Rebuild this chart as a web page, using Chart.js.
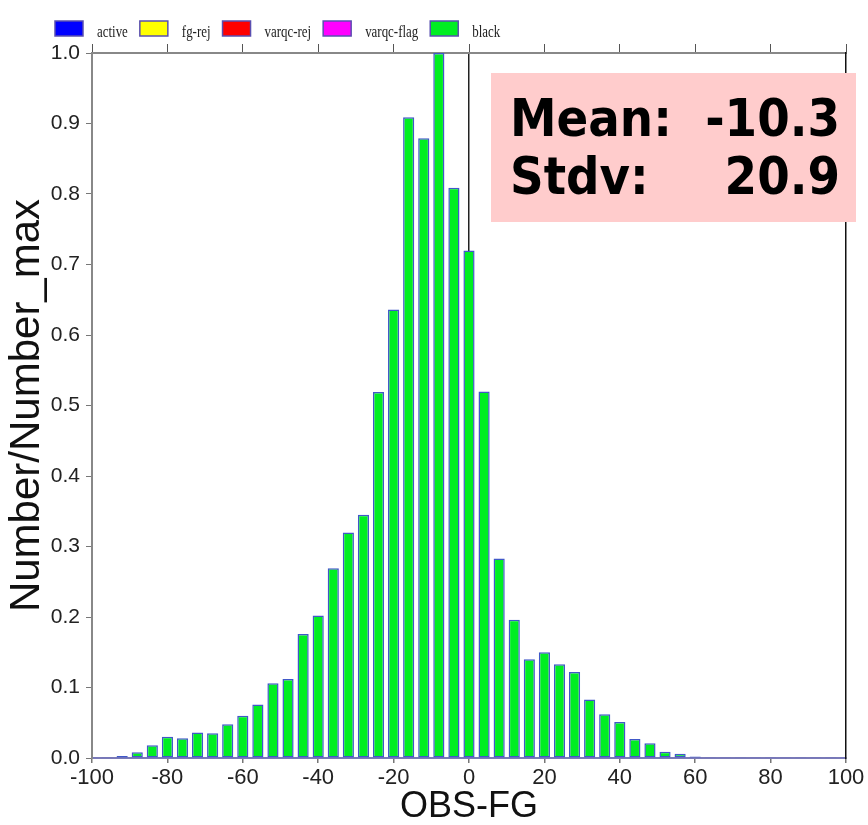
<!DOCTYPE html>
<html>
<head>
<meta charset="utf-8">
<script src="https://cdn.jsdelivr.net/npm/chart.js@4/dist/chart.umd.min.js"></script>
<style>
  html, body { margin: 0; padding: 0; background: #fff; }
  #wrap { width: 868px; height: 825px; }
</style>
</head>
<body>
<div id="wrap"><canvas id="hist" width="868" height="825"></canvas></div>
<script>
// Histogram bins (OBS-FG, bin centres) and normalised counts
const binCenters = [-100, -96, -92, -88, -84, -80, -76, -72, -68, -64, -60, -56, -52, -48, -44, -40,
  -36, -32, -28, -24, -20, -16, -12, -8, -4, 0, 4, 8, 12, 16, 20, 24, 28, 32, 36, 40,
  44, 48, 52, 56, 60, 64, 68, 72, 76, 80, 84, 88, 92, 96, 100];
const blackValues = [0.0005, 0.001, 0.003, 0.008, 0.018, 0.030, 0.028, 0.036, 0.035, 0.048, 0.060, 0.076,
  0.106, 0.112, 0.176, 0.202, 0.269, 0.320, 0.345, 0.519, 0.636, 0.909, 0.879, 1.000, 0.809, 0.720,
  0.520, 0.283, 0.196, 0.140, 0.150, 0.133, 0.122, 0.083, 0.062, 0.051, 0.027, 0.021, 0.009, 0.006,
  0.002, 0.001, 0.0005, 0.0005, 0.0005, 0.0005, 0.0005, 0.0005, 0.0005, 0.0005, 0.0005];
const seriesNames = ['active', 'fg-rej', 'varqc-rej', 'varqc-flag', 'black'];
const seriesColors = ['#0000ff', '#ffff00', '#ff0000', '#ff00ff', '#00ee22'];
const xTicks = [-100, -80, -60, -40, -20, 0, 20, 40, 60, 80, 100];
const yTicks = [0.0, 0.1, 0.2, 0.3, 0.4, 0.5, 0.6, 0.7, 0.8, 0.9, 1.0];
const statMean = -10.3;
const statStdv = 20.9;

const sans = '"Liberation Sans", Arial, sans-serif';

document.addEventListener('DOMContentLoaded', () => {
  const datasets = seriesNames.map((name, i) => ({
    label: name,
    data: name === 'black' ? binCenters.map((x, j) => ({ x, y: blackValues[j] })) : [],
    backgroundColor: seriesColors[i],
    borderColor: '#4058c8',
    borderWidth: 1.5,
    borderSkipped: false,
    grouped: false,
    barPercentage: 0.74,
    categoryPercentage: 1.0
  }));

  // legend boxes laid out like the original plot header (narrow serif text)
  const headerLegend = {
    id: 'headerLegend',
    afterDraw(chart) {
      const ctx = chart.ctx;
      const squeeze = 0.76;
      ctx.save();
      ctx.font = '17px "Liberation Serif", "Times New Roman", serif';
      ctx.textBaseline = 'alphabetic';
      let x = 55;
      chart.data.datasets.forEach(ds => {
        ctx.fillStyle = ds.backgroundColor;
        ctx.fillRect(x, 21, 28, 15);
        ctx.strokeStyle = '#5a4fb0';
        ctx.lineWidth = 1.5;
        ctx.strokeRect(x, 21, 28, 15);
        x += 28 + 14;
        ctx.save();
        ctx.translate(x, 37);
        ctx.scale(squeeze, 1);
        ctx.fillStyle = '#222';
        ctx.fillText(ds.label, 0, 0);
        ctx.restore();
        x += ctx.measureText(ds.label).width * squeeze + 12;
      });
      ctx.restore();
    }
  };

  // Mean / Stdv box in the upper right
  const statsBox = {
    id: 'statsBox',
    afterDraw(chart) {
      const ctx = chart.ctx;
      ctx.save();
      ctx.fillStyle = '#ffcccc';
      ctx.fillRect(491, 73, 365, 149);
      ctx.fillStyle = '#000';
      ctx.font = 'bold 52px "DejaVu Sans Condensed", "DejaVu Sans", sans-serif';
      ctx.textBaseline = 'alphabetic';
      ctx.textAlign = 'left';
      ctx.fillText('Mean:', 510, 136);
      ctx.fillText('Stdv:', 510, 194);
      ctx.textAlign = 'right';
      ctx.fillText(statMean.toFixed(1), 840, 136);
      ctx.fillText(statStdv.toFixed(1), 840, 194);
      ctx.restore();
    }
  };

  new Chart(document.getElementById('hist'), {
    type: 'bar',
    data: { datasets },
    options: {
      responsive: false,
      animation: false,
      layout: { padding: 0 },
      plugins: {
        legend: { display: false },
        tooltip: { enabled: false }
      },
      scales: {
        x: {
          type: 'linear',
          position: 'bottom',
          min: -100,
          max: 100,
          offset: false,
          z: 1,
          afterFit: s => { s.height = 67; },
          afterBuildTicks: s => { s.ticks = xTicks.map(v => ({ value: v })); },
          ticks: { font: { family: sans, size: 22 }, color: '#222', padding: 2, maxRotation: 0 },
          grid: {
            offset: false,
            drawOnChartArea: true,
            color: c => (c.tick && c.tick.value === 0 ? '#222' : 'rgba(0,0,0,0)'),
            lineWidth: 1.5,
            tickColor: '#777',
            tickLength: 5
          },
          border: { color: '#7a7ab8', width: 2 },
          title: {
            display: true,
            text: 'OBS-FG',
            color: '#111',
            font: { family: sans, size: 36, lineHeight: 1 },
            padding: { top: 0, bottom: 0 }
          }
        },
        x2: {
          type: 'linear',
          position: 'top',
          min: -100,
          max: 100,
          offset: false,
          afterFit: s => { s.height = 53; },
          afterBuildTicks: s => { s.ticks = xTicks.map(v => ({ value: v })); },
          ticks: { display: false },
          grid: { offset: false, drawOnChartArea: false, tickColor: '#555', tickLength: 9 },
          border: { color: '#888', width: 2 }
        },
        y: {
          type: 'linear',
          position: 'left',
          min: 0,
          max: 1,
          afterFit: s => { s.width = 92; },
          afterBuildTicks: s => { s.ticks = yTicks.map(v => ({ value: v })); },
          ticks: {
            font: { family: sans, size: 21 },
            color: '#222',
            padding: 6,
            callback: v => Number(v).toFixed(1)
          },
          grid: { drawOnChartArea: false, tickColor: '#777', tickLength: 6 },
          border: { color: '#888', width: 2 },
          title: {
            display: true,
            text: 'Number/Number_max',
            color: '#111',
            font: { family: sans, size: 42, lineHeight: 1 },
            padding: { top: 6, bottom: 0 }
          }
        },
        y2: {
          type: 'linear',
          position: 'right',
          min: 0,
          max: 1,
          afterFit: s => { s.width = 22; },
          ticks: { display: false },
          grid: { drawOnChartArea: false, drawTicks: false },
          border: { color: '#111', width: 1.5 }
        }
      }
    },
    plugins: [headerLegend, statsBox]
  });
});
</script>
</body>
</html>
